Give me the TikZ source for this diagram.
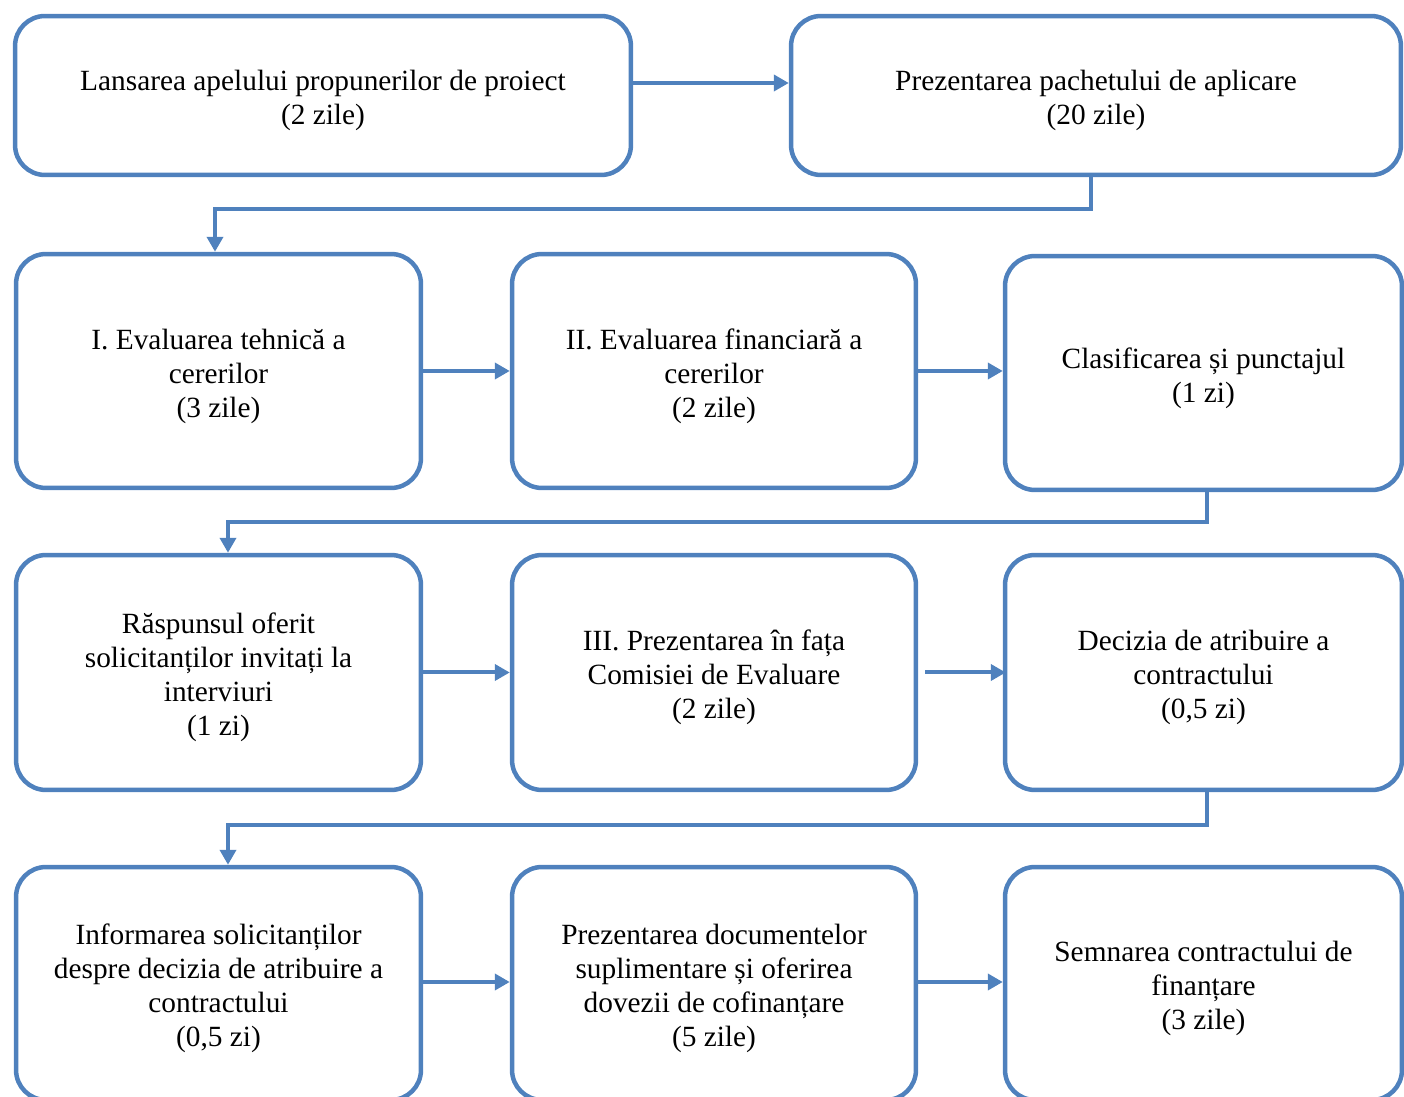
\documentclass[tikz,border=0pt]{standalone}
\usepackage{fontspec}
\setmainfont{Liberation Serif}
\usetikzlibrary{arrows.meta}

\definecolor{flowblue}{RGB}{79,129,189}
\newcommand{\topgap}{\rule{0pt}{0.62cm}}

\tikzset{
  stepbox/.style={draw=flowblue, line width=0.09cm, rounded corners=0.6cm,
    align=center, inner sep=0pt, font=\fontsize{16.7}{19.35}\selectfont},
  flow/.style={draw=flowblue, line width=0.08cm,
    -{Triangle[length=0.3cm,width=0.32cm]}},
}

\begin{document}
\begin{tikzpicture}[x=0.02cm, y=-0.02cm]
  \clip (0,0) rectangle (1404,1097);

  % row 1
  \node[stepbox, minimum width=12.32cm, minimum height=3.18cm] (lansare) at (323,95.5)
    {\topgap Lansarea apelului propunerilor de proiect\\(2 zile)};
  \node[stepbox, minimum width=12.2cm, minimum height=3.18cm] (pachet) at (1096,95.5)
    {\topgap Prezentarea pachetului de aplicare\\(20 zile)};

  % row 2
  \node[stepbox, minimum width=8.1cm, minimum height=4.68cm] (evaltehnic) at (218.5,371)
    {\topgap I. Evaluarea tehnică a\\cererilor\\(3 zile)};
  \node[stepbox, minimum width=8.08cm, minimum height=4.68cm] (evalfin) at (714,371)
    {\topgap II. Evaluarea financiară a\\cererilor\\(2 zile)};
  \node[stepbox, minimum width=7.94cm, minimum height=4.68cm] (clasif) at (1203.5,373)
    {\topgap Clasificarea și punctajul\\(1 zi)};

  % row 3
  \node[stepbox, minimum width=8.1cm, minimum height=4.7cm] (raspuns) at (218.5,672.5)
    {\topgap Răspunsul oferit\\solicitanților invitați la\\interviuri\\(1 zi)};
  \node[stepbox, minimum width=8.08cm, minimum height=4.7cm] (prezcomisie) at (714,672.5)
    {\topgap III. Prezentarea în fața\\Comisiei de Evaluare\\(2 zile)};
  \node[stepbox, minimum width=7.94cm, minimum height=4.7cm] (decizie) at (1203.5,672.5)
    {\topgap Decizia de atribuire a\\contractului\\(0,5 zi)};

  % row 4
  \node[stepbox, minimum width=8.1cm, minimum height=4.66cm] (informare) at (218.5,983.5)
    {\topgap Informarea solicitanților\\despre decizia de atribuire a\\contractului\\(0,5 zi)};
  \node[stepbox, minimum width=8.08cm, minimum height=4.66cm] (documente) at (714,983.5)
    {\topgap Prezentarea documentelor\\suplimentare și oferirea\\dovezii de cofinanțare\\(5 zile)};
  \node[stepbox, minimum width=7.94cm, minimum height=4.66cm] (semnare) at (1203.5,983.5)
    {\topgap Semnarea contractului de\\finanțare\\(3 zile)};

  % connectors
  \draw[flow] ([yshift=0.25cm]lansare.east) -- ([yshift=0.25cm]pachet.west);
  \draw[flow] ([xshift=-0.1cm]pachet.south) -- ++(0,32) -| ([xshift=-0.07cm]evaltehnic.north);

  \draw[flow] (evaltehnic.east) -- (evalfin.west);
  \draw[flow] (evalfin.east) -- (evalfin.east -| clasif.west);
  \draw[flow] ([xshift=0.07cm]clasif.south) -- ++(0,30) -| ([xshift=0.19cm]raspuns.north);

  \draw[flow] (raspuns.east) -- (prezcomisie.west);
  \draw[flow] ([xshift=0.14cm]prezcomisie.east) -- ([xshift=0.06cm]prezcomisie.east -| decizie.west);
  \draw[flow] ([xshift=0.07cm]decizie.south) -- ++(0,33) -| ([xshift=0.19cm]informare.north);

  \draw[flow] ([yshift=0.03cm]informare.east) -- ([yshift=0.03cm]documente.west);
  \draw[flow] ([yshift=0.03cm]documente.east) -- ([yshift=0.03cm]semnare.west);
\end{tikzpicture}
\end{document}
